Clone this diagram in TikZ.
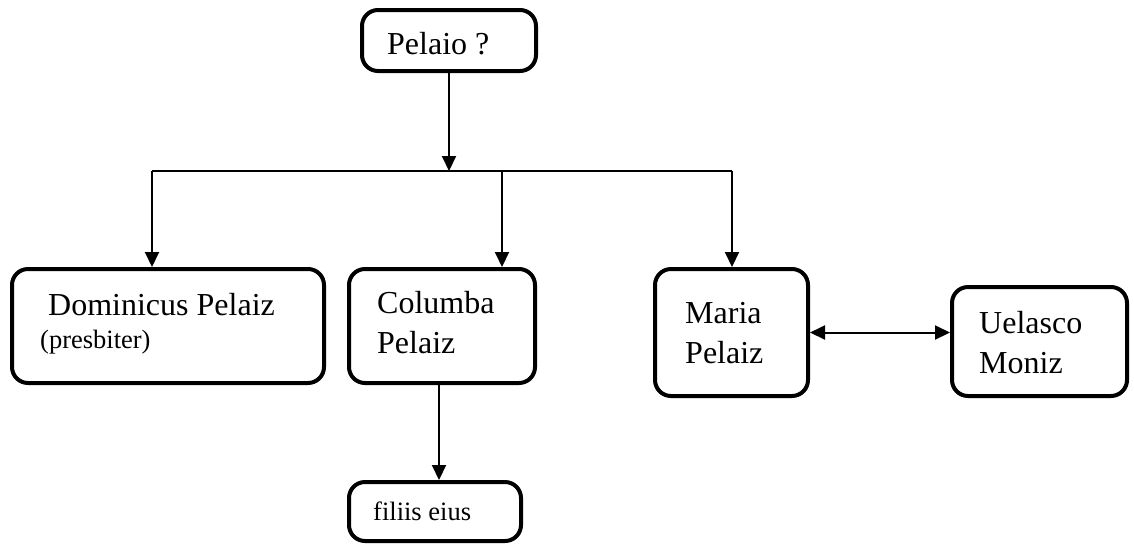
\documentclass[tikz,border=0pt]{standalone}
\usepackage{fontspec}
\setmainfont{Liberation Serif}
\usetikzlibrary{arrows.meta}
\tikzset{
  box/.style={draw=black, line width=4pt, rounded corners=16pt, inner sep=0pt, fill=white},
  lbl/.style={anchor=base west, inner sep=0pt, font=\fontsize{32}{40}\selectfont},
  slbl/.style={anchor=base west, inner sep=0pt, font=\fontsize{26.5}{32}\selectfont},
  conn/.style={line width=2pt, draw=black},
  arr/.style={conn, -{Triangle[length=15pt,width=14pt]}},
  darr/.style={conn, {Triangle[length=15pt,width=14pt]}-{Triangle[length=15pt,width=14pt]}}
}
\begin{document}
\begin{tikzpicture}[x=1pt,y=-1pt]
\useasboundingbox (0,0) rectangle (1134,547);
% boxes
\node[box, minimum width=174pt, minimum height=61pt] (pel) at (449,40.5) {};
\node[box, minimum width=312pt, minimum height=114pt] (dom) at (168,326) {};
\node[box, minimum width=186pt, minimum height=114pt] (col) at (442,326) {};
\node[box, minimum width=153pt, minimum height=127pt] (mar) at (731.5,332.5) {};
\node[box, minimum width=175pt, minimum height=109pt] (uel) at (1039.5,341.5) {};
\node[box, minimum width=172pt, minimum height=59pt] (fil) at (435,511.5) {};
% texts
\node[lbl] (tpel) at (387,54) {Pelaio ?};
\node[lbl] (tdom) at (48,315) {Dominicus Pelaiz};
\node[slbl] (tpre) at (40,348) {(presbiter)};
\node[lbl] (tcol1) at (377,313) {Columba};
\node[lbl] (tcol2) at (377,353) {Pelaiz};
\node[lbl] (tmar1) at (685,323) {Maria};
\node[lbl] (tmar2) at (685,363) {Pelaiz};
\node[lbl] (tuel1) at (979,333) {Uelasco};
\node[lbl] (tuel2) at (979,373) {Moniz};
\node[slbl] (tfil) at (373,520) {filiis eius};
% bus
\coordinate (bl) at (152,171);
\coordinate (bc) at (502,171);
\coordinate (br) at (732,171);
\draw[conn] (bl) -- (br);
\draw[arr] (pel.south) -- (pel.south |- bl);
\draw[arr] (bl) -- (bl |- dom.north);
\draw[arr] (bc) -- (bc |- col.north);
\draw[arr] (br) -- (br |- mar.north);
\coordinate (cs) at (439,385);
\draw[arr] (cs |- col.south) -- (cs |- fil.north);
\draw[darr] (mar.east) -- (mar.east -| uel.west);
\end{tikzpicture}
\end{document}
